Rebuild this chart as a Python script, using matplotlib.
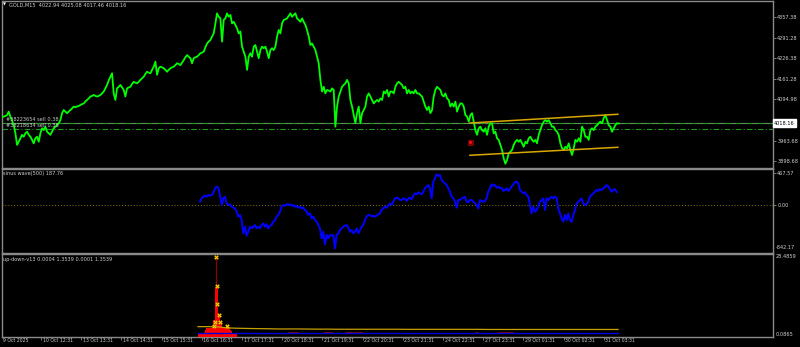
import numpy as np
import matplotlib
matplotlib.use("Agg")
import matplotlib.pyplot as plt

# ---------------- data ----------------
BARS_PER_SAMPLE = 4.146          # M15 bars between successive readings
PRICE_START = -4.0               # bar index of first reading
PRICE = [
 4040,4040,4040,4042,4045,4056,4040,4027,4013,3987,
 3950,3960,3971,3982,3976,3987,3992,3982,3976,3966,
 3955,3971,3976,3960,3987,4003,3997,4008,3992,3987,
 3982,3992,4003,4008,4013,4019,4029,4051,4061,4056,
 4051,4056,4061,4066,4072,4070,4072,4074,4077,4080,
 4082,4088,4093,4098,4104,4106,4109,4106,4104,4106,
 4109,4114,4120,4130,4141,4155,4167,4178,4114,4093,
 4130,4135,4141,4133,4125,4104,4130,4133,4135,4144,
 4151,4148,4146,4151,4157,4162,4167,4176,4183,4180,
 4178,4189,4199,4215,4173,4194,4199,4197,4194,4189,
 4183,4189,4194,4197,4199,4204,4210,4208,4204,4212,
 4220,4229,4236,4231,4226,4210,4226,4229,4231,4236,
 4242,4244,4247,4261,4273,4279,4284,4295,4305,4337,
 4369,4358,4353,4279,4348,4353,4369,4358,4364,4337,
 4342,4332,4321,4305,4311,4263,4247,4231,4189,4231,
 4242,4231,4263,4268,4247,4226,4252,4263,4258,4263,
 4247,4226,4252,4258,4252,4263,4295,4316,4305,4337,
 4348,4350,4353,4361,4369,4358,4364,4369,4353,4348,
 4342,4353,4342,4332,4316,4295,4268,4273,4263,4252,
 4231,4210,4157,4120,4135,4114,4125,4123,4120,4130,
 4125,4008,4072,4104,4120,4135,4141,4146,4157,4146,
 4093,4072,4045,4019,4051,4072,
 4019,4051,4061,4072,4104,4114,4104,4093,4082,4088,
 4093,4088,4098,4093,4120,4114,4125,4104,4120,4120,
 4114,4135,4146,4151,4146,4141,4130,4135,4114,4125,
 4114,4120,4114,4125,4114,4114,4109,4104,4088,4072,
 4061,4072,4051,4061,4104,4125,4135,4130,4125,4109,
 4104,4114,4098,4093,4072,4082,4072,4088,4056,4072,
 4082,4082,4072,4045,4040,4024,4045,4051,4024,3997,
 3982,4003,4008,3997,3992,4003,3982,4008,4019,4019,
 3987,3992,3971,3966,3950,3934,3907,3890,3902,3923,
 3928,3934,3950,3960,3966,3960,3966,3955,3944,3960,
 3955,3971,3976,3966,3960,3966,3955,3982,3997,4013,
 4024,4029,4024,4029,4019,4008,4008,3997,3992,3982,
 3955,3939,3934,3944,3939,3955,3934,3918,3939,3966,
 3960,3971,3960,4008,3997,3976,3976,3966,3997,4003,
 3997,4008,4013,4019,4024,4019,4035,4045,4029,4013,
 4008,3992,4003,4013,4019,4018,
]

SINE_START = 492.5
SINE = [
 49,97,122,136,122,146,136,146,170,244,
 268,253,146,0,97,122,24,0,10,-24,
 -39,-49,-97,-170,-146,-219,-414,-317,-448,-390,
 -317,-341,-317,-292,-341,-317,-341,-292,-268,-317,
 -282,-341,-302,-292,-244,-219,-170,-146,-97,-24,
 0,-10,10,0,10,-10,0,-24,-15,-39,
 -24,-49,-39,-73,-97,-146,-122,-195,-170,-219,
 -244,-292,-341,-487,-390,-575,-438,-487,-438,-448,
 -438,-633,-438,-414,-365,-341,-317,-302,-292,-331,
 -390,-365,-414,-390,-341,-414,-365,-317,-292,-219,
 -170,-146,-146,-170,-156,-170,-156,-136,-122,-73,
 -49,-24,-39,-10,24,0,49,97,107,97,
 73,73,97,88,58,97,107,83,136,170,
 156,185,170,156,195,244,268,292,244,97,
 341,390,448,429,438,365,341,317,292,244,
 195,122,97,49,-39,73,73,97,107,122,
 49,39,73,73,49,24,0,-49,73,58,
 49,58,97,195,244,302,283,292,253,268,
 244,253,205,219,244,205,234,268,302,331,
 341,317,219,195,170,185,146,122,0,-122,
 -24,-97,-73,-24,49,73,97,-73,97,73,
 97,122,97,122,107,-49,-122,-195,-244,-146,
 -219,-122,-219,-244,-146,-73,24,49,73,97,
 24,0,10,49,122,146,170,195,219,205,
 234,219,244,268,292,268,234,195,219,234,
 188,
]
SINE_LEVEL = 0.0

UD_START = 487.6
UD_STEP = 24.88
UD_YELLOW = [3.61,3.61,3.51,3.17,3.06,2.99,2.93,2.89,2.82,2.82,
             2.82,2.79,2.76,2.76,2.72,2.72,2.72,2.72,2.72,2.72,
             2.72,2.69,2.69,2.69,2.69,2.69,2.69,2.69,2.69,2.65,
             2.65,2.65,2.65,2.65,2.65,2.65,2.65,2.65,2.65,2.65,
             2.65,2.65,2.65]
UD_BLUE = [1.60,1.60,1.60,1.60,1.60,1.60,1.60,1.60,1.60,1.60,
           1.60,1.60,1.60,1.60,1.60,1.60,1.60,1.60,1.60,1.60,
           1.60,1.60,1.60,1.60,1.60,1.60,1.60,1.60,1.60,1.60,
           1.60,1.60,1.60,1.60,1.60,1.60,1.60,1.60,1.60,1.60,
           1.60,1.60,1.60]
RED_STEP = 2.488
RED = [1.2,1.2,1.2,1.2,1.2,1.5,1.8,2.5,3.0,3.2,
       3.2,3.2,3.0,3.0,4.2,5.9,5.9,17.2,17.2,17.2,
       7.6,7.6,5.2,5.2,3.3,3.0,3.0,3.2,4.2,4.2,
       3.6,3.0,2.5,2.0,1.5,1.2,1.2,1.2,1.2]
SPIKE_BAR, SPIKE_TOP = 531.6, 27.4
MARK_BARS = [531.6, 534.1, 535.6, 540.5, 529.9, 543.0, 559.0, 526.6]
MARK_VALS = [27.4, 17.5, 11.4, 7.6, 5.2, 5.2, 3.85, 3.85]
CRIMSON_SEGS = [(711, 736), (798, 823), (853, 898), (1177, 1184), (1234, 1271)]
CRIMSON_VAL = 1.75

PRICE_TICKS = [4357.38, 4291.28, 4226.38, 4161.28, 4094.98, 3963.68, 3898.68]
BID = 4018.16
ORDER_PRICES = [4019.7, 4000.6]
ORDER_LABELS = ["#38223654 sell 0.38", "#38218634 sell 0.38"]
CH_BARS = [1164, 1532]
CH_UPPER = [4019.7, 4047.5]
CH_LOWER = [3916.9, 3942.4]
SELL_BAR, SELL_PRICE = 1164, 3958

TIME_TICK_BARS = [97, 197, 297, 397, 497, 597, 697, 797, 897, 997, 1097, 1197, 1297, 1397, 1497]
TIME_LABELS = ["10 Oct 12:31", "13 Oct 13:31", "14 Oct 14:31", "15 Oct 15:31", "16 Oct 16:31",
               "17 Oct 17:31", "20 Oct 18:31", "21 Oct 19:31", "22 Oct 20:31", "23 Oct 21:31",
               "24 Oct 22:31", "27 Oct 23:31", "29 Oct 01:31", "30 Oct 02:31", "31 Oct 03:31"]
FIRST_LABEL = "9 Oct 2025"
TITLE = "GOLD,M15  4022.94 4025.08 4017.46 4018.16"
SINE_TITLE = "sinus wave(500) 187.76"
UD_TITLE = "up-down-v13 0.0004 1.3539 0.0001 1.3539"

# ---------------- figure ----------------
W, H = 800, 347
plt.rcParams['font.family'] = ['DejaVu Sans']
FS = 3.6
FS_T = 3.3
TXT = '#d0d0d0'
GRID = '#8a8a8a'

fig = plt.figure(figsize=(W / 100, H / 100), dpi=100, facecolor='black')

def add_ax(top, bottom, left=2, right=773):
    ax = fig.add_axes([left / W, 1 - bottom / H, (right - left) / W, (bottom - top) / H])
    ax.set_facecolor('black')
    for s in ax.spines.values():
        s.set_color(GRID)
        s.set_linewidth(1.0)
    ax.yaxis.tick_right()
    ax.tick_params(axis='y', colors=GRID, labelcolor=TXT, labelsize=FS, length=2, width=0.6, pad=1)
    ax.tick_params(axis='x', bottom=False, labelbottom=False)
    return ax

XMAX = 1918
ax1 = add_ax(1, 168)
ax2 = add_ax(169, 253)
ax3 = add_ax(253.5, 337)
for ax in (ax1, ax2, ax3):
    ax.set_xlim(0, XMAX)

# ---- main price panel ----
px = PRICE_START + np.arange(len(PRICE)) * BARS_PER_SAMPLE
ax1.plot(px, PRICE, color='#00ff00', lw=1.3, zorder=3)
ax1.set_ylim(3876.4, 4408.3)
ax1.set_yticks(PRICE_TICKS)
ax1.set_yticklabels([f"{v:.2f}" for v in PRICE_TICKS])

ax1.axhline(BID, color='#7a8a7a', lw=0.8, zorder=2)
for p in ORDER_PRICES:
    ax1.axhline(p, color='#1f9a1f', lw=0.8, ls=(0, (5, 2, 1, 2)), zorder=2)
for p, lab in zip(ORDER_PRICES, ORDER_LABELS):
    ax1.text(4 / 0.402, p + 2, lab, color='#c8c8c8', fontsize=FS, ha='left', va='bottom', zorder=4)

ax1.plot(CH_BARS, CH_UPPER, color='#d9a800', lw=1.1, zorder=4)
ax1.plot(CH_BARS, CH_LOWER, color='#d9a800', lw=1.1, zorder=4)
ax1.plot([SELL_BAR], [SELL_PRICE], marker='s', ms=3.6, mfc='#7a0000', mec='#a00000', mew=0.5, ls='none', zorder=5)
ax1.plot([SELL_BAR], [SELL_PRICE], marker='o', ms=0.9, color='#ff2020', ls='none', zorder=6)

ax1.text(1.0015, BID, f"{BID:.2f}", transform=ax1.get_yaxis_transform(), fontsize=FS,
         color='black', ha='left', va='center', zorder=10, clip_on=False,
         bbox=dict(boxstyle='square,pad=0.3', fc='white', ec='white'))

ax1.text(7 / 771, 1 - 4 / 167, TITLE, transform=ax1.transAxes, fontsize=FS, color=TXT,
         ha='left', va='center')
fig.text(4.5 / W, 1 - 5 / H, "▼", fontsize=2.8, color='white', ha='center', va='center')

# ---- sinus wave panel ----
sx = SINE_START + np.arange(len(SINE)) * BARS_PER_SAMPLE
ax2.plot(sx, SINE, color='#0000ff', lw=1.4, zorder=3)
ax2.axhline(SINE_LEVEL, color='#8c7800', lw=0.7, ls=(0, (1, 2)), zorder=2)
ax2.set_ylim(-701, 526)
ax2.set_yticks([467.57, 0.0])
ax2.set_yticklabels(["467.57", "0.00"])
ax2.text(1.004, 0.035, "-842.17", transform=ax2.transAxes, fontsize=FS, color=TXT,
         ha='left', va='bottom', clip_on=False)
ax2.text(1 / 771, 1 - 5 / 84, SINE_TITLE, transform=ax2.transAxes, fontsize=FS, color=TXT,
         ha='left', va='center')

# ---- up-down panel ----
ux = UD_START + np.arange(len(UD_YELLOW)) * UD_STEP
rx = UD_START + np.arange(len(RED)) * RED_STEP
ax3.set_ylim(0.0865, 28.4859)
ax3.vlines([SPIKE_BAR], 0.0865, SPIKE_TOP, color='#8b0000', lw=0.9, zorder=2)
ax3.bar(rx, RED, width=RED_STEP, bottom=0, color='#ff0000', align='center', zorder=3)
ax3.plot(ux, UD_BLUE, color='#0000e0', lw=1.0, zorder=4)
for a, b in CRIMSON_SEGS:
    ax3.hlines(CRIMSON_VAL, a, b, color='#6a0c20', lw=0.7, zorder=5)
ax3.plot(ux, UD_YELLOW, color='#c8a000', lw=0.9, zorder=5)
ax3.plot(MARK_BARS, MARK_VALS, marker='X', ms=3.0, mfc='#ffd000', mec='#b08000', mew=0.3,
         ls='none', zorder=6)
ax3.set_yticks([])
ax3.text(1.004, 28.4859, "28.4859", transform=ax3.get_yaxis_transform(), fontsize=FS, color=TXT,
         ha='left', va='top', clip_on=False)
ax3.text(1.004, 0.0865, "0.0865", transform=ax3.get_yaxis_transform(), fontsize=FS, color=TXT,
         ha='left', va='bottom', clip_on=False)
ax3.text(1 / 771, 1 - 5.5 / 83.5, UD_TITLE, transform=ax3.transAxes, fontsize=FS, color=TXT,
         ha='left', va='center')

# ---- time axis ----
ax3.set_xticks(TIME_TICK_BARS)
ax3.tick_params(axis='x', bottom=True, labelbottom=False, direction='out', length=2.0,
                width=0.6, colors=GRID)
xt = ax3.get_xaxis_transform()
off = -1.2 / 83.5
ax3.text(2.0, off, FIRST_LABEL, transform=xt, fontsize=FS_T, color=TXT, ha='left', va='top', clip_on=False)
for b, lab in zip(TIME_TICK_BARS, TIME_LABELS):
    ax3.text(b + 4.0, off, lab, transform=xt, fontsize=FS_T, color=TXT, ha='left', va='top', clip_on=False)

fig.savefig("out.png", dpi=100, facecolor='black')
